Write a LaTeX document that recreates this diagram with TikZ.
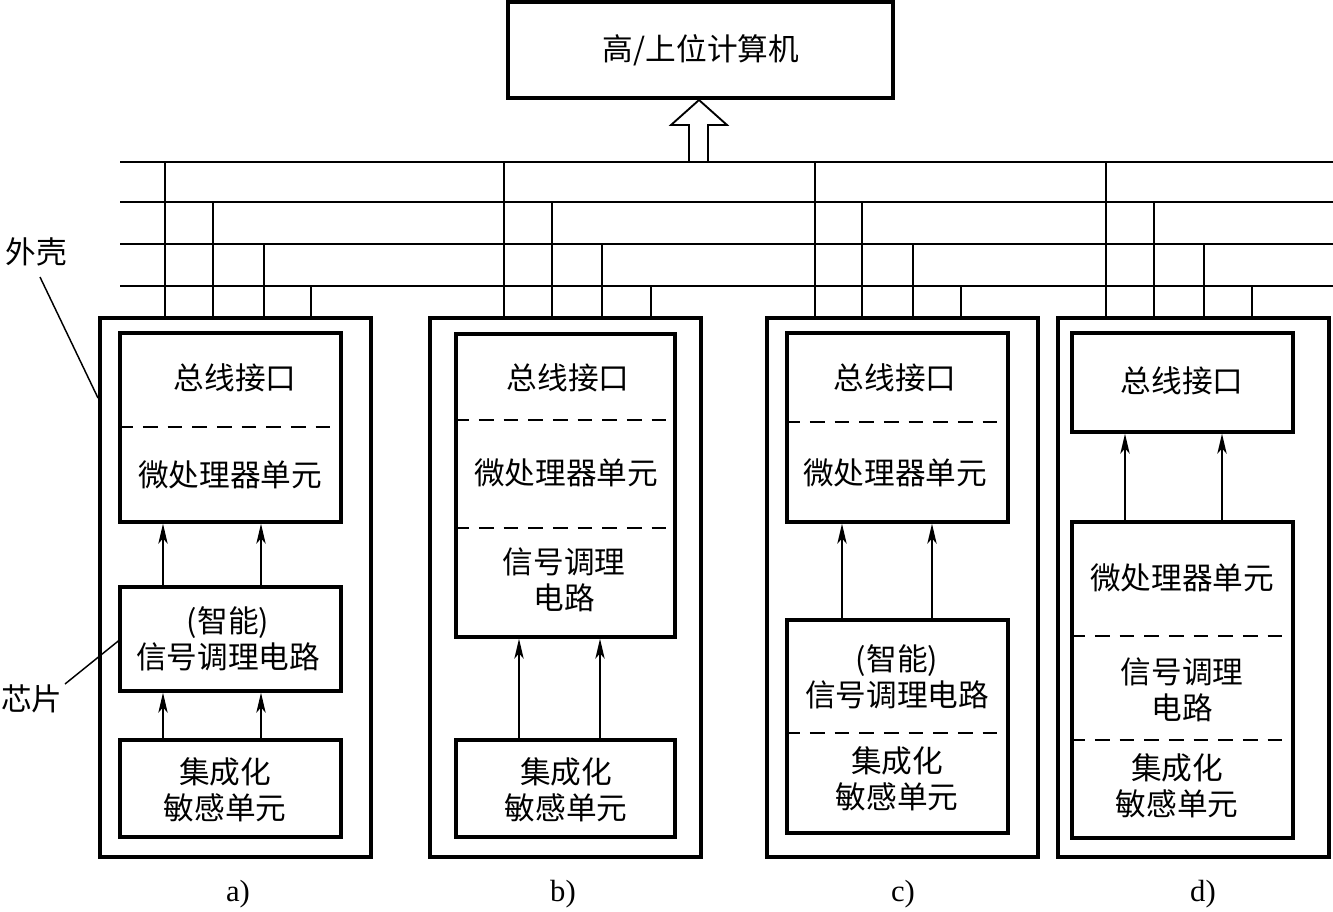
\documentclass[tikz,border=0pt]{standalone}
\usepackage{fontspec}
\setmainfont{Liberation Serif}
\newfontfamily\cjk{Noto Sans CJK SC}
\usetikzlibrary{fit,arrows.meta}
\begin{document}
\begin{tikzpicture}[x=0.75pt,y=-0.75pt,
  obox/.style={draw, line width=3pt, inner sep=0pt},
  ibox/.style={draw, line width=2.6pt, inner sep=0pt},
  txt/.style={font=\cjk\fontsize{23pt}{27pt}\selectfont, align=center, inner sep=0pt},
  captxt/.style={font=\fontsize{23pt}{27pt}\selectfont, inner sep=0pt},
  bus/.style={line width=1.4pt},
  tap/.style={line width=1.3pt},
  sepline/.style={line width=1.1pt, dash pattern=on 11pt off 7.5pt},
  arr/.style={line width=1.3pt, -{Stealth[length=15pt,width=7pt,inset=4pt]}},
  lead/.style={line width=1.1pt}]
\useasboundingbox (0,0) rectangle (1333,911);

% host computer
\node[obox, fit={(508,2) (893,98)}] (host) {};
\node[txt] (hostt) at (701,50) {高/上位计算机};
\draw[line width=1.4pt, fill=white] (689,162) -- (689,125) -- (671,125) -- (host.south -| 699,0) -- (727,125) -- (708,125) -- (708,162);

% bus lines
\coordinate (b1l) at (120,162); \coordinate (b1r) at (1333,162);
\coordinate (b2l) at (120,202); \coordinate (b2r) at (1333,202);
\coordinate (b3l) at (120,244); \coordinate (b3r) at (1333,244);
\coordinate (b4l) at (120,286); \coordinate (b4r) at (1333,286);
\draw[line width=1.1pt] (b1l) -- (b1r);
\draw[bus] (b2l) -- (b2r);
\draw[bus] (b3l) -- (b3r);
\draw[bus] (b4l) -- (b4r);

% outer housings
\node[obox, fit={(100,318) (371,857)}] (oa) {};
\node[obox, fit={(430,318) (701,857)}] (ob) {};
\node[obox, fit={(767,318) (1038,857)}] (oc) {};
\node[obox, fit={(1058,318) (1329,857)}] (od) {};

% bus taps
\foreach \x/\y/\b in {165/162/oa,213/202/oa,264/244/oa,311/286/oa,
                      504/162/ob,552/202/ob,602/244/ob,651/286/ob,
                      815/162/oc,862/202/oc,913/244/oc,961/286/oc,
                      1106/162/od,1154/202/od,1204/244/od,1252/286/od}
  \draw[tap] (\x,\y) -- (\x,\y |- \b.north);

% ---- a)
\node[ibox, fit={(120,333) (341,522)}] (a1) {};
\draw[sepline] (a1.west |- 0,427) -- (a1.east |- 0,427);
\node[txt] (a1t) at (235,378) {总线接口};
\node[txt] (a1u) at (230,475) {微处理器单元};
\node[ibox, fit={(120,587) (341,691)}] (a2) {};
\node[txt] (a2t) at (228,639) {(智能)\\信号调理电路};
\node[ibox, fit={(120,740) (341,837)}] (a3) {};
\node[txt] (a3t) at (225,790) {集成化\\敏感单元};
\draw[arr] (a2.north -| 163,0) -- (a1.south -| 163,0);
\draw[arr] (a2.north -| 261,0) -- (a1.south -| 261,0);
\draw[arr] (a3.north -| 163,0) -- (a2.south -| 163,0);
\draw[arr] (a3.north -| 261,0) -- (a2.south -| 261,0);

% ---- b)
\node[ibox, fit={(456,334) (675,637)}] (b1) {};
\draw[sepline] (b1.west |- 0,420) -- (b1.east |- 0,420);
\draw[sepline] (b1.west |- 0,528) -- (b1.east |- 0,528);
\node[txt] (b1t) at (568,378) {总线接口};
\node[txt] (b1u) at (566,473) {微处理器单元};
\node[txt] (b1v) at (564,580) {信号调理\\电路};
\node[ibox, fit={(456,740) (675,837)}] (b2) {};
\node[txt] (b2t) at (566,790) {集成化\\敏感单元};
\draw[arr] (b2.north -| 519,0) -- (b1.south -| 519,0);
\draw[arr] (b2.north -| 600,0) -- (b1.south -| 600,0);

% ---- c)
\node[ibox, fit={(787,333) (1008,522)}] (c1) {};
\draw[sepline] (c1.west |- 0,422) -- (c1.east |- 0,422);
\node[txt] (c1t) at (895,378) {总线接口};
\node[txt] (c1u) at (895,473) {微处理器单元};
\node[ibox, fit={(787,620) (1008,833)}] (c2) {};
\draw[sepline] (c2.west |- 0,733) -- (c2.east |- 0,733);
\node[txt] (c2t) at (897,677) {(智能)\\信号调理电路};
\node[txt] (c2u) at (897,779) {集成化\\敏感单元};
\draw[arr] (c2.north -| 842,0) -- (c1.south -| 842,0);
\draw[arr] (c2.north -| 932,0) -- (c1.south -| 932,0);

% ---- d)
\node[ibox, fit={(1072,333) (1293,432)}] (d1) {};
\node[txt] (d1t) at (1182,381) {总线接口};
\node[ibox, fit={(1072,522) (1293,838)}] (d2) {};
\draw[sepline] (d2.west |- 0,636) -- (d2.east |- 0,636);
\draw[sepline] (d2.west |- 0,740) -- (d2.east |- 0,740);
\node[txt] (d2t) at (1182,578) {微处理器单元};
\node[txt] (d2u) at (1182,690) {信号调理\\电路};
\node[txt] (d2v) at (1177,786) {集成化\\敏感单元};
\draw[arr] (d2.north -| 1125,0) -- (d1.south -| 1125,0);
\draw[arr] (d2.north -| 1222,0) -- (d1.south -| 1222,0);

% labels
\node[txt] (wk) at (36,252) {外壳};
\coordinate (wks) at (40,277);
\draw[lead] (wks) -- (oa.west |- 0,398);
\node[txt, anchor=west] (xp) at (1,699) {芯片};
\coordinate (xpe) at (65,684);
\draw[lead] (xpe) -- (a2.west |- 0,641);

% captions
\node[captxt] (capa) at (238,894) {a)};
\node[captxt] (capb) at (563,894) {b)};
\node[captxt] (capc) at (903,894) {c)};
\node[captxt] (capd) at (1203,894) {d)};
\end{tikzpicture}
\end{document}
